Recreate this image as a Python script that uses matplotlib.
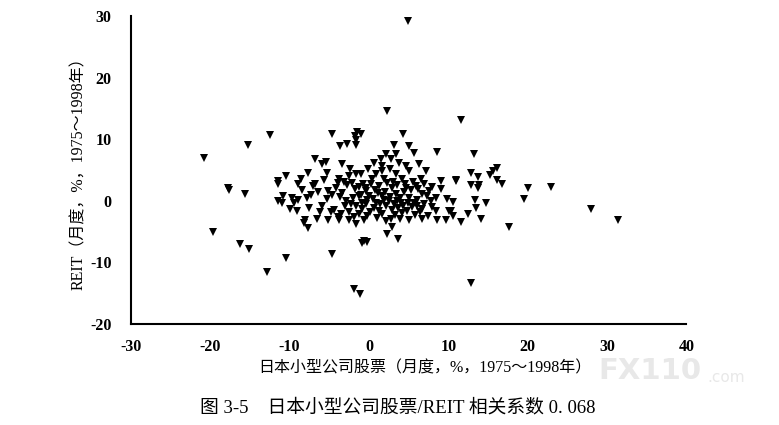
import matplotlib
matplotlib.use("Agg")
import matplotlib.pyplot as plt

plt.rcParams['axes.unicode_minus'] = False

# monthly returns, %, 1975-1998
# outliers
small_cap_outer = [4.9, 2.3, 11.6, -12.5, -15.2, -20.8, -17.7, -17.6, -15.6, -19.7,
                   -16.3, -15.1, -12.8, -10.5, -4.6, -1.9, -1.1, 12.9, 20.0, 23.0,
                   28.0, 31.4, 17.6, 19.6]
reit_outer = [29.2, 14.6, 13.1, 10.7, 9.1, 7.0, 2.1, 1.8, 1.1, -5.0,
              -7.1, -7.8, -11.5, -9.3, -8.6, -14.3, -15.1, -13.3, 2.1, 2.3,
              -1.3, -3.1, -4.2, 0.3]

# left part of the cloud
small_cap_left = [-4.6, -1.5, -1.8, -1.6, -1.6, -3.7, -2.7, -6.8, -5.9, -5.4,
                  -3.4, -2.4, -7.7, -5.3, -10.5, -11.4, -11.5, -9.0, -6.8, -3.8,
                  -2.5, -1.6, -10.8, -9.7, -8.9, -7.8, -7.3, -11.0, -9.9, -9.1,
                  -7.6, -5.9, -5.1, -4.2, -3.4, -2.9, -2.2, -1.3, -0.4, -0.4,
                  -8.0, -7.7, -6.6, -5.1, -3.8, -2.5, -1.6, -3.5, -2.5, -1.3,
                  -11.5, -7.0, -5.3, -8.2, -0.9, -0.3, -0.6]
reit_left = [10.9, 11.2, 10.6, 9.9, 9.1, 8.9, 9.2, 6.8, 6.0, 6.3,
             6.0, 5.2, 4.5, 4.5, 4.1, 3.2, 2.8, 2.8, 2.8, 3.6,
             4.1, 4.4, 0.8, 0.5, 0.2, 0.5, 1.0, -0.3, -1.3, -1.6,
             -1.1, -0.8, 1.6, 2.1, 1.3, 0.0, -0.5, 0.8, 1.6, -0.5,
             -3.2, -4.4, -2.9, -3.1, -3.2, -3.2, -3.7, -2.1, -1.9, -2.1,
             0.0, 2.4, 0.3, -3.6, -6.8, -6.7, -6.5]

# middle part of the cloud
small_cap_mid = [-1.0, 4.3, 3.2, 5.1, 5.7, 8.6, 2.2, 3.4, 3.8, 2.8,
                 1.5, 1.6, 1.6, 4.7, 6.3, 5.1, 7.2, 3.4, -1.0, 0.4,
                 1.9, 4.2, 6.6, 9.1, 11.0, -0.4, 1.3, 2.9, 4.7, 5.9,
                 7.6, 9.1, 0.0, 1.6, 3.4, 5.1, 6.7, 8.5, -0.9, 0.9,
                 2.5, 4.1, 5.7, 7.8, 9.9, -0.9, 1.3, 2.9, 4.8, 6.7,
                 8.5, 10.1, 1.0, 2.8, 5.1, 6.7, 8.6, 2.9, 2.3, 3.7,
                 9.7, -0.6]
reit_mid = [10.9, 10.9, 9.1, 8.9, 7.8, 8.0, 7.6, 7.6, 6.2, 6.8,
            6.8, 5.7, 4.9, 5.7, 6.0, 4.9, 4.9, 4.4, 4.4, 3.6,
            3.6, 3.6, 3.6, 3.2, 3.2, 2.1, 2.4, 2.1, 2.1, 2.4,
            1.6, 1.9, 0.8, 0.8, 1.1, 0.5, 1.1, 0.5, -0.3, -0.3,
            0.0, -0.3, -0.3, 0.0, 0.3, -1.3, -1.6, -1.5, -1.6, -1.3,
            -1.6, -1.6, -2.8, -2.9, -3.2, -2.9, -3.2, -4.2, -5.4, -6.2,
            -3.2, -3.2]

# right part of the cloud
small_cap_right = [13.2, 11.0, 12.9, 13.8, 15.2, 15.6, 16.2, 16.2, 16.8, 12.9,
                   13.9, 13.7, 10.6, 13.4, 14.7, 13.5, 10.4, 10.6, 12.5, 11.6,
                   14.1]
reit_right = [7.6, 3.4, 4.5, 3.9, 4.2, 4.9, 5.4, 3.4, 2.8, 2.6,
              2.6, 2.1, -0.2, 0.2, -0.3, -1.1, -1.6, -2.4, -2.1, -3.4,
              -2.9]

# dense core around zero
small_cap_core = [-3.9, -3.2, -2.8, -2.1, -1.8, -1.2, -0.7, 0.3, 0.8, 1.1,
                  2.0, 2.3, 2.6, 3.0, 3.6, 3.9, 4.4, 4.5, 5.3, 5.5,
                  6.1, 6.2, 6.9, 7.3, -3.6, -3.0, -2.0, -1.6, -1.0, -0.2,
                  0.5, 0.6, 1.4, 1.9, 2.2, 3.1, 3.5, 3.7, 4.3, 4.9,
                  5.4, 6.0, 6.4, 7.0, -4.4, -3.9, -1.9, -0.3, 0.2, 1.7,
                  2.1, 3.3, 3.9, 4.2, 5.8, 7.4, 7.9, 8.0, -4.7, -6.4,
                  -6.2, -8.4, -9.5, -4.8, -5.6, -8.6, 0.9, 2.6, -0.1, 0.6]
reit_core = [2.9, 3.1, 2.6, 2.9, 1.9, 2.3, 2.8, 2.7, 1.8, 1.2,
             1.5, 2.9, 0.6, 3.1, 2.6, 0.4, 1.4, 2.8, 1.7, 3.0,
             0.2, 1.9, 2.7, 0.8, 0.6, -0.9, 0.4, -0.9, 0.9, 0.2,
             0.3, -1.1, -0.6, 0.1, -0.9, -0.6, 0.0, -1.2, -0.9, -0.4,
             -1.0, -0.8, -1.9, -0.5, -1.5, -2.6, -2.7, -2.4, -1.8, -2.2,
             -3.3, -2.3, -3.0, -2.0, -2.3, -2.4, -1.0, 2.3, 0.9, 1.4,
             -1.9, 1.8, -0.4, -1.8, 3.4, 3.6, 4.4, 5.1, 5.2, 6.1]

small_cap = small_cap_outer + small_cap_left + small_cap_mid + small_cap_right + small_cap_core
reit = reit_outer + reit_left + reit_mid + reit_right + reit_core

x_ticks = [-30, -20, -10, 0, 10, 20, 30, 40]
y_ticks = [-20, -10, 0, 10, 20, 30]

cjk = ['Liberation Serif', 'Noto Sans CJK SC']

fig = plt.figure(figsize=(7.79, 4.25), dpi=100)
ax = fig.add_axes([0.168, 0.238, 0.713, 0.724])

ax.plot(small_cap, reit, linestyle='none', marker='v', color='black',
        markersize=5.5, markeredgewidth=0)

ax.set_xlim(-30, 40)
ax.set_ylim(-20, 30)
ax.set_xticks(x_ticks)
ax.set_yticks(y_ticks)
ax.spines['top'].set_visible(False)
ax.spines['right'].set_visible(False)
ax.spines['left'].set_linewidth(1.5)
ax.spines['bottom'].set_linewidth(1.5)
ax.tick_params(length=0)
ax.tick_params(axis='y', pad=14)
ax.tick_params(axis='x', pad=11)
for lab in ax.get_xticklabels() + ax.get_yticklabels():
    lab.set_fontfamily('Liberation Serif')
    lab.set_fontweight('bold')
    lab.set_fontsize(11.5)

fig.text(0.101, 0.6, 'REIT（月度，%，1975～1998年）', rotation=90,
         ha='center', va='center', fontsize=11.5, family=cjk)
fig.text(0.546, 0.134, '日本小型公司股票（月度，%，1975～1998年）',
         ha='center', va='center', fontsize=11.5, family=cjk)
fig.text(0.511, 0.04, '图 3-5    日本小型公司股票/REIT 相关系数 0. 068',
         ha='center', va='center', fontsize=13.5, family=cjk)

# watermark
fig.text(0.768, 0.128, 'FX110', fontsize=21, fontweight='bold', color='#e8e8e8',
         family='DejaVu Sans', ha='left', va='center')
fig.text(0.908, 0.112, '.com', fontsize=11, color='#e8e8e8',
         family='DejaVu Sans', ha='left', va='center')

fig.savefig('out.png', dpi=100)
